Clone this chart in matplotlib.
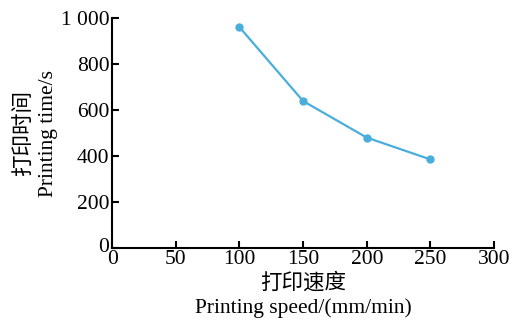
import matplotlib
matplotlib.use("Agg")
import matplotlib.pyplot as plt
import matplotlib.transforms as mtransforms

speed = [100, 150, 200, 250]
time_s = [961, 639, 480, 385]
xticks = [0, 50, 100, 150, 200, 250, 300]
yticks = [0, 200, 400, 600, 800, 1000]
ytick_labels = ["0", "200", "400", "600", "800", "1 000"]

plt.rcParams['font.family'] = ['Liberation Serif', 'Noto Sans CJK SC']

fig = plt.figure(figsize=(5.12, 3.24), dpi=100)
ax = fig.add_axes([0.219, 0.235, 0.746, 0.709])
ax.plot(speed, time_s, color='#4aaedc', lw=1.6, marker='o', ms=5)
ax.set_xlim(0, 300)
ax.set_ylim(0, 1000)
ax.set_xticks(xticks)
ax.set_yticks(yticks)
ax.set_yticklabels(ytick_labels)
for s in ['top', 'right']:
    ax.spines[s].set_visible(False)
for s in ['left', 'bottom']:
    ax.spines[s].set_linewidth(1.5)
ax.tick_params(direction='in', length=5, width=1.5, labelsize=15.5)
ax.tick_params(axis='x', pad=1.5)
ax.tick_params(axis='y', pad=2)
# nudge the y "0" label slightly up so it does not collide with x "0"
lbl0 = ax.get_yticklabels()[0]
lbl0.set_transform(lbl0.get_transform() + mtransforms.ScaledTranslation(0, 3/100, fig.dpi_scale_trans))
ax.set_xlabel("打印速度\nPrinting speed/(mm/min)", fontsize=15.5, linespacing=1.3, labelpad=3)
ax.set_ylabel("打印时间\nPrinting time/s", fontsize=15.5, linespacing=1.3, labelpad=2)
fig.savefig("out.png", dpi=100)
